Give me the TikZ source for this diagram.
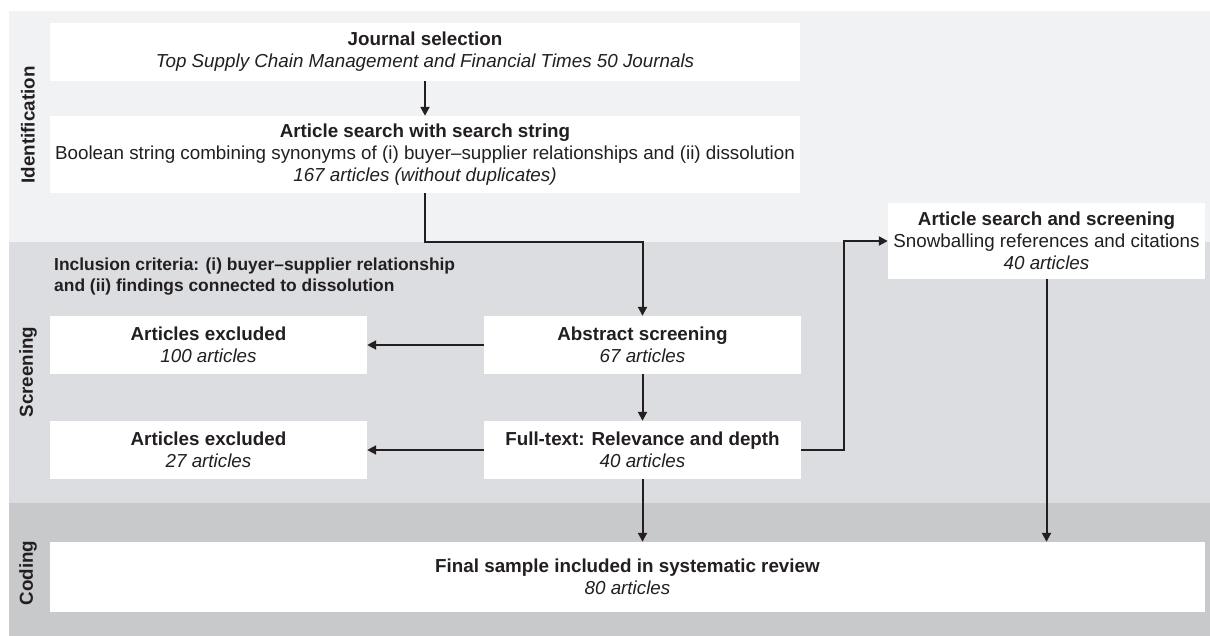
\documentclass[tikz,border=0pt]{standalone}
\usepackage{fontspec}
\setmainfont{Liberation Sans}
\usetikzlibrary{arrows.meta}
\definecolor{inkc}{HTML}{231F20}
\definecolor{bandA}{HTML}{F1F2F4}
\definecolor{bandB}{HTML}{DCDDE0}
\definecolor{bandC}{HTML}{C8C9CB}
\tikzset{
  box/.style={fill=white, draw=none, inner sep=0pt, align=center, text=inkc,
    font=\fontsize{18.8}{22}\selectfont},
  phase/.style={rotate=90, inner sep=0pt, text=inkc, font=\fontsize{18.8}{22}\selectfont\bfseries},
  conn/.style={draw=inkc, line width=2pt},
  arr/.style={conn, -{Triangle[length=9pt,width=9pt]}},
}
\begin{document}
\begin{tikzpicture}[x=1pt,y=-1pt]
\useasboundingbox (0,0) rectangle (1210,636);
\fill[white] (0,0) rectangle (1210,636);
% bands
\fill[bandA] (9,11) rectangle (1210,242);
\fill[bandB] (9,242) rectangle (1210,503);
\fill[bandC] (9,503) rectangle (1210,636);
% phase labels
\node[phase] (pI) at (28,125) {Identification};
\node[phase] (pS) at (28,372) {Screening};
\node[phase] (pC) at (28,573) {Coding};
% boxes
\node[box, minimum width=750pt, minimum height=58pt] (J) at (425,52)
  {\textbf{Journal selection}\\\textit{Top Supply Chain Management and Financial Times 50 Journals}};
\node[box, minimum width=750pt, minimum height=77pt] (S) at (425,154.5)
  {\textbf{Article search with search string}\\Boolean string combining synonyms of (i) buyer–supplier relationships and (ii) dissolution\\\textit{167 articles (without duplicates)}};
\node[anchor=north west, inner sep=0pt, align=left, text=inkc,
  font=\fontsize{17.4}{20.5}\selectfont\bfseries] (inc) at (54,258)
  {Inclusion criteria: (i) buyer–supplier relationship\\and (ii) findings connected to dissolution};
\node[box, minimum width=317pt, minimum height=58pt] (X1) at (208.5,345)
  {\textbf{Articles excluded}\\\textit{100 articles}};
\node[box, minimum width=317pt, minimum height=58pt] (X2) at (208.5,450)
  {\textbf{Articles excluded}\\\textit{27 articles}};
\node[box, minimum width=317pt, minimum height=58pt] (A) at (642.5,345)
  {\textbf{Abstract screening}\\\textit{67 articles}};
\node[box, minimum width=317pt, minimum height=58pt] (F) at (642.5,450)
  {\textbf{Full-text: Relevance and depth}\\\textit{40 articles}};
\node[box, minimum width=317pt, minimum height=76pt] (SB) at (1046.5,241)
  {\textbf{Article search and screening}\\Snowballing references and citations\\\textit{40 articles}};
\node[box, minimum width=1155pt, minimum height=70pt] (FS) at (627.5,577)
  {\textbf{Final sample included in systematic review}\\\textit{80 articles}};
% connectors
\coordinate (b1) at (425,242);
\coordinate (b2) at (844,241);
\draw[arr] (J) -- (S);
\draw[arr] (S.south) -- (b1) -| (A.north);
\draw[arr] (A.west) -- (X1.east);
\draw[arr] (F.west) -- (X2.east);
\draw[arr] (A) -- (F);
\draw[arr] (F.south) -- (F.south |- FS.north);
\draw[arr] (F.east) -| (b2) -- (SB.west);
\draw[arr] (SB.south) -- (SB.south |- FS.north);
\end{tikzpicture}
\end{document}
